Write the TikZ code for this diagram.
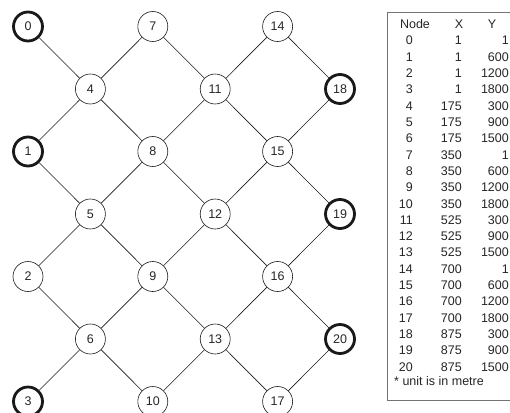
\documentclass[tikz,border=0pt]{standalone}
\usepackage{fontspec}
\setmainfont{Liberation Sans}
\begin{document}
\begin{tikzpicture}[x=1pt,y=-1pt,
  font=\fontsize{12.5}{15}\selectfont,
  vert/.style={circle, draw=black!90, line width=0.6pt, minimum size=30pt, inner sep=0pt, text=black!85},
  term/.style={vert, line width=2.8pt, minimum size=29pt},
  link/.style={line width=0.6pt, draw=black!90},
  cell/.style={anchor=base east, inner sep=0pt, text=black!85},
  head/.style={anchor=base, inner sep=0pt, text=black!85}]
\useasboundingbox (0,0) rectangle (510,412);
\clip (0,0) rectangle (510,412);
% grid x = 28 + 62.4 i, y = 26.5 + 62.5 j
\node[term] (n0)  at (28,26.5)    {0};
\node[term] (n1)  at (28,151.5)   {1};
\node[vert] (n2)  at (28,276.5)   {2};
\node[term] (n3)  at (28,401.5)   {3};
\node[vert] (n4)  at (90.4,89)    {4};
\node[vert] (n5)  at (90.4,214)   {5};
\node[vert] (n6)  at (90.4,339)   {6};
\node[vert] (n7)  at (152.8,26.5) {7};
\node[vert] (n8)  at (152.8,151.5){8};
\node[vert] (n9)  at (152.8,276.5){9};
\node[vert] (n10) at (152.8,401.5){10};
\node[vert] (n11) at (215.2,89)   {11};
\node[vert] (n12) at (215.2,214)  {12};
\node[vert] (n13) at (215.2,339)  {13};
\node[vert] (n14) at (277.6,26.5) {14};
\node[vert] (n15) at (277.6,151.5){15};
\node[vert] (n16) at (277.6,276.5){16};
\node[vert] (n17) at (277.6,401.5){17};
\node[term] (n18) at (340,89)     {18};
\node[term] (n19) at (340,214)    {19};
\node[term] (n20) at (340,339)    {20};
\foreach \a/\b in {0/4,1/4,1/5,2/5,2/6,3/6,
                   4/7,4/8,5/8,5/9,6/9,6/10,
                   7/11,8/11,8/12,9/12,9/13,10/13,
                   11/14,11/15,12/15,12/16,13/16,13/17,
                   14/18,15/18,15/19,16/19,16/20,17/20}
  \draw[link] (n\a) -- (n\b);
% table
\draw[black!55, line width=0.9pt] (540,12.5) -- (387.5,12.5) -- (387.5,400) -- (540,400);
\node[head] (hn) at (415,28.5) {Node};
\node[head] (hx) at (459,28.5) {X};
\node[head] (hy) at (492,28.5) {Y};
\foreach [count=\i from 0] \x/\y in {1/1,1/600,1/1200,1/1800,175/300,175/900,175/1500,
  350/1,350/600,350/1200,350/1800,525/300,525/900,525/1500,
  700/1,700/600,700/1200,700/1800,875/300,875/900,875/1500} {
  \node[cell] (c\i) at (413,45+16.3*\i) {\i};
  \node[cell] (x\i) at (462,45+16.3*\i) {\x};
  \node[cell] (y\i) at (509,45+16.3*\i) {\y};
}
\node[anchor=base west, inner sep=0pt, text=black!85] (note) at (394,385.5) {* unit is in metre};
\end{tikzpicture}
\end{document}
